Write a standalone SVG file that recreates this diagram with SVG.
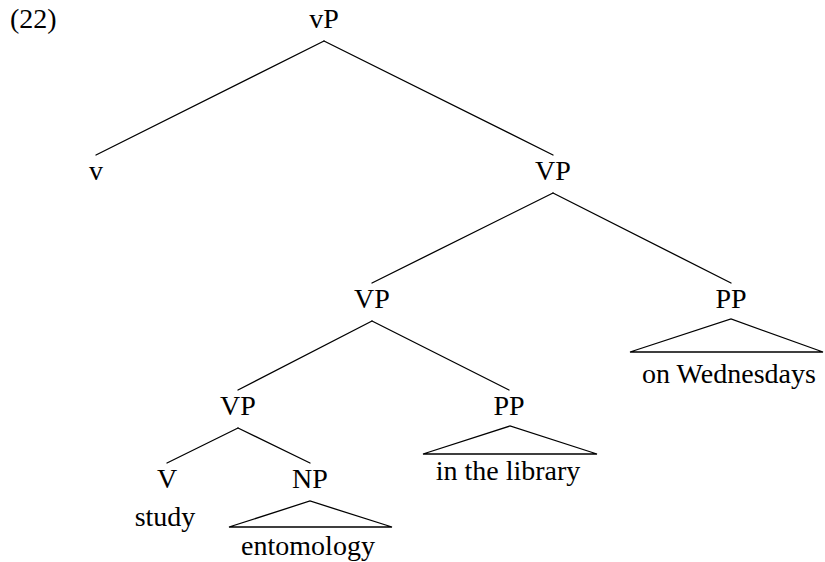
<svg xmlns="http://www.w3.org/2000/svg" width="825" height="562" viewBox="0 0 825 562">
  <style>
    text { font-family: "Liberation Serif", "Times New Roman", serif; font-size: 28px; fill: #000; }
    .lbl { text-anchor: middle; }
    .edge { stroke: #000; stroke-width: 1.3; fill: none; stroke-linecap: round; }
    .tri { stroke: #000; stroke-width: 1.3; fill: none; stroke-linejoin: miter; }
  </style>
  <rect width="825" height="562" fill="#fff"/>

  <text x="10" y="28">(22)</text>

  <!-- tree branches -->
  <g id="connectors">
    <path class="edge" d="M324 41 L96 155"/>
    <path class="edge" d="M324 41 L553 155"/>
    <path class="edge" d="M553 193 L372 283"/>
    <path class="edge" d="M553 193 L731 283"/>
    <path class="edge" d="M372 321 L238 390"/>
    <path class="edge" d="M372 321 L509 390"/>
    <path class="edge" d="M238 428 L167 463"/>
    <path class="edge" d="M238 428 L310 463"/>
  </g>

  <g id="vP"><text class="lbl" x="324" y="28">vP</text></g>
  <g id="v"><text class="lbl" x="96" y="180">v</text></g>
  <g id="VP1"><text class="lbl" x="553" y="180">VP</text></g>
  <g id="VP2"><text class="lbl" x="372" y="308">VP</text></g>
  <g id="PP1">
    <text class="lbl" x="731" y="308">PP</text>
    <path class="tri" d="M630 352 L731 319 L823 352 Z"/>
    <text class="lbl" x="729" y="383">on Wednesdays</text>
  </g>
  <g id="VP3"><text class="lbl" x="238" y="415">VP</text></g>
  <g id="PP2">
    <text class="lbl" x="509" y="415">PP</text>
    <path class="tri" d="M423 454 L510 426 L597 454 Z"/>
    <text class="lbl" x="508" y="480">in the library</text>
  </g>
  <g id="V">
    <text class="lbl" x="167" y="488">V</text>
    <text class="lbl" x="165" y="526">study</text>
  </g>
  <g id="NP">
    <text class="lbl" x="310" y="488">NP</text>
    <path class="tri" d="M229 527 L310 501 L392 527 Z"/>
    <text class="lbl" x="308" y="555">entomology</text>
  </g>
</svg>
